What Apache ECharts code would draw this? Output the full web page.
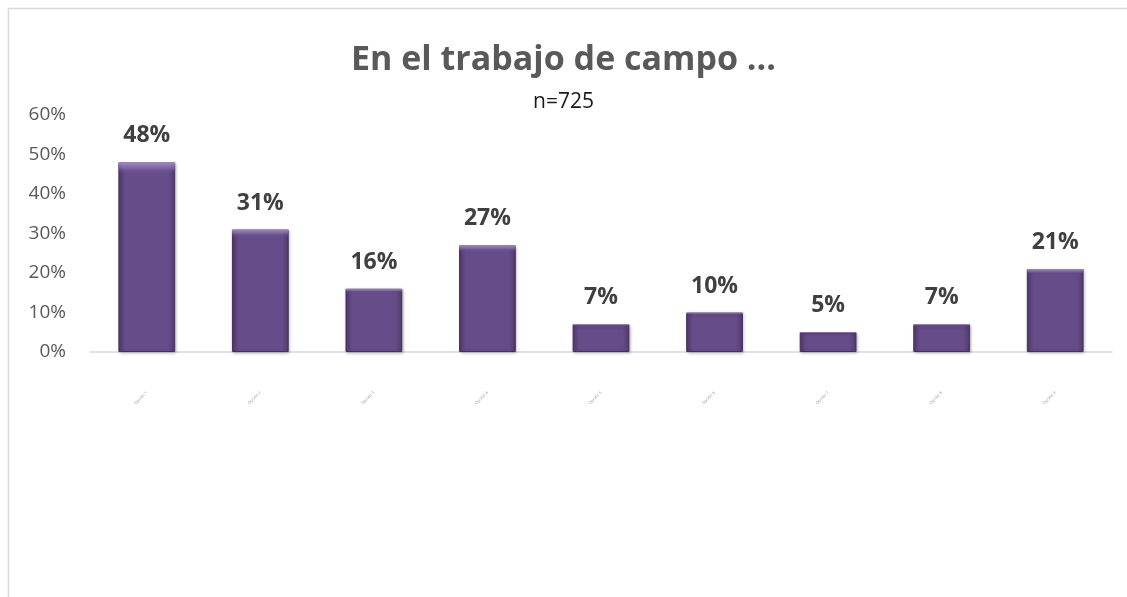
<!DOCTYPE html>
<html lang="es">
	<head>
		<meta charset="UTF-8" />
		<title>En el trabajo de campo</title>
		<style>
			html, body { margin: 0; padding: 0; background: #fff; }
		</style>
	</head>
	<body>
		<div id="main" style="width: 1127px; height: 597px"></div>
		<script src="https://cdn.jsdelivr.net/npm/echarts@6/dist/echarts.min.js"></script>
		<script>
			// datos (las etiquetas de categoría no son legibles)
			var categorias = ["Opción 1", "Opción 2", "Opción 3", "Opción 4", "Opción 5", "Opción 6", "Opción 7", "Opción 8", "Opción 9"];
			var valores = [48, 31, 16, 27, 7, 10, 5, 7, 21];
			var ticksY = [0, 10, 20, 30, 40, 50, 60];

			var myChart = echarts.init(document.getElementById("main"));

			var option = {
				backgroundColor: "#fff",
				animation: false,
				textStyle: { fontFamily: "Open Sans" },
				title: {
					text: "En el trabajo de campo ...",
					subtext: "n=725",
					left: "center",
					top: 38,
					itemGap: 15,
					textStyle: { fontSize: 34, fontWeight: "bold", color: "#595959" },
					subtextStyle: { fontSize: 21, color: "#1a1a1a" },
				},
				graphic: [
					{
						type: "rect",
						shape: { x: 8.5, y: 8.5, width: 1140, height: 620 },
						style: { fill: null, stroke: "#d9d9d9", lineWidth: 1.5 },
						silent: true,
					},
				],
				grid: { left: 90, right: 15, top: 115, bottom: 245 },
				xAxis: {
					type: "category",
					data: categorias,
					axisLine: { lineStyle: { color: "#d9d9d9", width: 1.5 } },
					axisTick: { show: false },
					axisLabel: { rotate: 45, fontSize: 4, color: "#999", interval: 0, margin: 40 },
				},
				yAxis: {
					type: "value",
					min: ticksY[0],
					max: ticksY[ticksY.length - 1],
					interval: 10,
					axisLine: { show: false },
					axisTick: { show: false },
					splitLine: { show: false },
					axisLabel: {
						fontSize: 19,
						color: "#595959",
						margin: 24,
						formatter: function (v) { return v + "%"; },
					},
				},
				series: [
					{
						type: "bar",
						data: valores,
						barWidth: "50%",
						itemStyle: {
							color: new echarts.graphic.LinearGradient(0, 0, 1, 0, [
								{ offset: 0, color: "#533b70" },
								{ offset: 0.12, color: "#664c88" },
								{ offset: 0.88, color: "#664c88" },
								{ offset: 1, color: "#533b70" },
							]),
							borderColor: "#46315e",
							borderWidth: 1,
							shadowColor: "rgba(0,0,0,0.25)",
							shadowBlur: 3,
							shadowOffsetX: 1,
							shadowOffsetY: 1,
						},
						label: {
							show: true,
							position: "top",
							distance: 15,
							fontSize: 23,
							fontWeight: "bold",
							color: "#404040",
							formatter: function (p) { return p.value + "%"; },
						},
					},
					{
						// franja clara superior (biselado)
						type: "bar",
						data: valores,
						barWidth: "50%",
						barGap: "-100%",
						silent: true,
						itemStyle: {
							color: new echarts.graphic.LinearGradient(0, 0, 0, 1, [
								{ offset: 0, color: "rgba(170,150,205,0.9)" },
								{ offset: 0.03, color: "rgba(150,128,190,0.5)" },
								{ offset: 0.06, color: "rgba(102,76,136,0)" },
								{ offset: 1, color: "rgba(102,76,136,0)" },
							]),
						},
					},
				],
			};

			myChart.setOption(option);
		</script>
	</body>
</html>
